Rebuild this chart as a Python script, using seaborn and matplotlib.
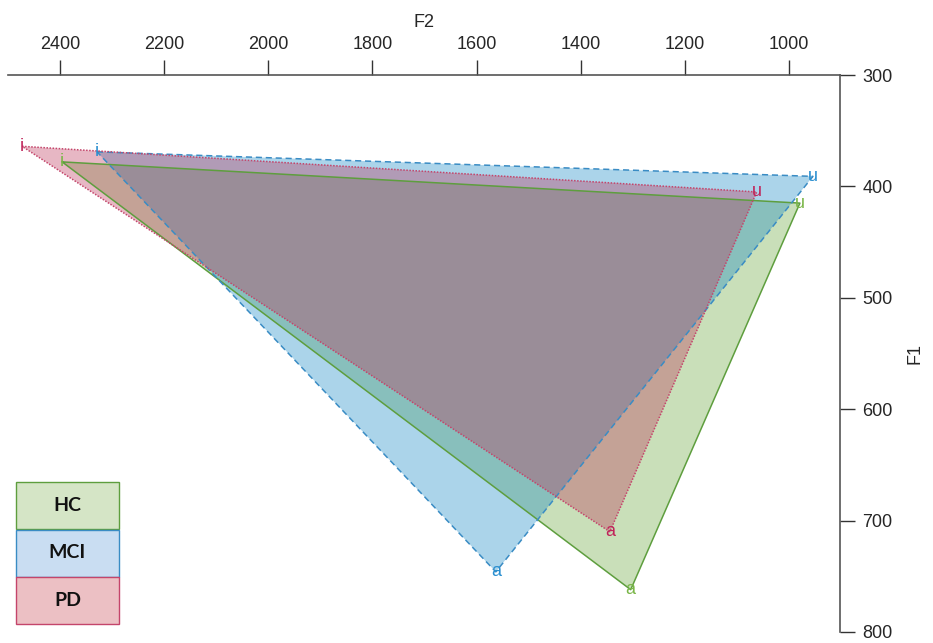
import matplotlib
matplotlib.use("Agg")
import matplotlib.pyplot as plt
import matplotlib.patches as mpatches
import pandas as pd
import seaborn as sns

# vowel triangle corners (F2, F1) for each group
vowels = ['i', 'u', 'a']
hc_f2 = [2396, 979, 1304]
hc_f1 = [378, 415, 762]
mci_f2 = [2329, 954, 1563]
mci_f1 = [369, 391, 746]
pd_f2 = [2473, 1062, 1344]
pd_f1 = [364, 405, 710]

groups = ['HC', 'MCI', 'PD']
fills = ['#65a437', '#0f84c3', '#bd3156']
edges = ['#5e9e3e', '#3a8cc4', '#c4456b']
text_colors = ['#7ab648', '#2a8fd0', '#c0245a']
styles = ['-', (0, (4, 2.5)), (0, (1, 1))]
legend_fill = ['#d5e5c6', '#c9ddf2', '#ecc0c4']

x_ticks = [2400, 2200, 2000, 1800, 1600, 1400, 1200, 1000]
y_ticks = [300, 400, 500, 600, 700, 800]

rows = []
for g, f2s, f1s in zip(groups, [hc_f2, mci_f2, pd_f2], [hc_f1, mci_f1, pd_f1]):
    for v, f2, f1 in zip(vowels, f2s, f1s):
        rows.append({'group': g, 'vowel': v, 'F2': f2, 'F1': f1})
df = pd.DataFrame(rows)

sns.set_style('white')
plt.rcParams['font.family'] = ['Liberation Sans', 'DejaVu Sans']

fig = plt.figure(figsize=(9.33, 6.43), dpi=100)
ax = fig.add_axes([8 / 933, 1 - 632 / 643, 832 / 933, 557 / 643])

for i, g in enumerate(groups):
    sub = df[df.group == g]
    ax.fill(sub.F2, sub.F1, color=fills[i], alpha=0.35, lw=0, zorder=1 + i)
    closed = pd.concat([sub, sub.iloc[:1]])
    sns.lineplot(data=closed, x='F2', y='F1', sort=False, estimator=None,
                 color=edges[i], lw=1.1, linestyle=styles[i], ax=ax, zorder=5)
    for _, r in sub.iterrows():
        ax.text(r.F2, r.F1, r.vowel, color=text_colors[i], fontsize=13,
                ha='center', va='center', zorder=6)

ax.set_xlim(2500, 902)
ax.set_ylim(800, 300)
ax.set_xticks(x_ticks)
ax.set_yticks(y_ticks)

for s in ['left', 'bottom']:
    ax.spines[s].set_visible(False)
for s in ['top', 'right']:
    ax.spines[s].set_color('#555555')
    ax.spines[s].set_linewidth(1.2)

ax.xaxis.tick_top()
ax.xaxis.set_label_position('top')
ax.yaxis.tick_right()
ax.yaxis.set_label_position('right')
ax.tick_params(axis='both', direction='out', length=11, width=1, color='#333333',
               labelsize=13, pad=5)
ax.set_xlabel('F2', fontsize=13, labelpad=6)
ax.set_ylabel('F1', fontsize=13, labelpad=10)

# legend boxes in the lower left
box_h = 47 / 557
for i, g in enumerate(groups):
    y0 = (632 - 529 - i * 47.5) / 557
    ax.add_patch(mpatches.Rectangle((8 / 832, y0), 103 / 832, box_h,
                                    transform=ax.transAxes, facecolor=legend_fill[i],
                                    edgecolor=edges[i], lw=1, zorder=7, clip_on=False))
    ax.text((8 + 51.5) / 832, y0 + box_h / 2, g, transform=ax.transAxes,
            ha='center', va='center', fontsize=14, fontweight='bold',
            family=['Lato', 'DejaVu Sans'], color='#111111', zorder=8)

fig.savefig('out.png', dpi=100)
